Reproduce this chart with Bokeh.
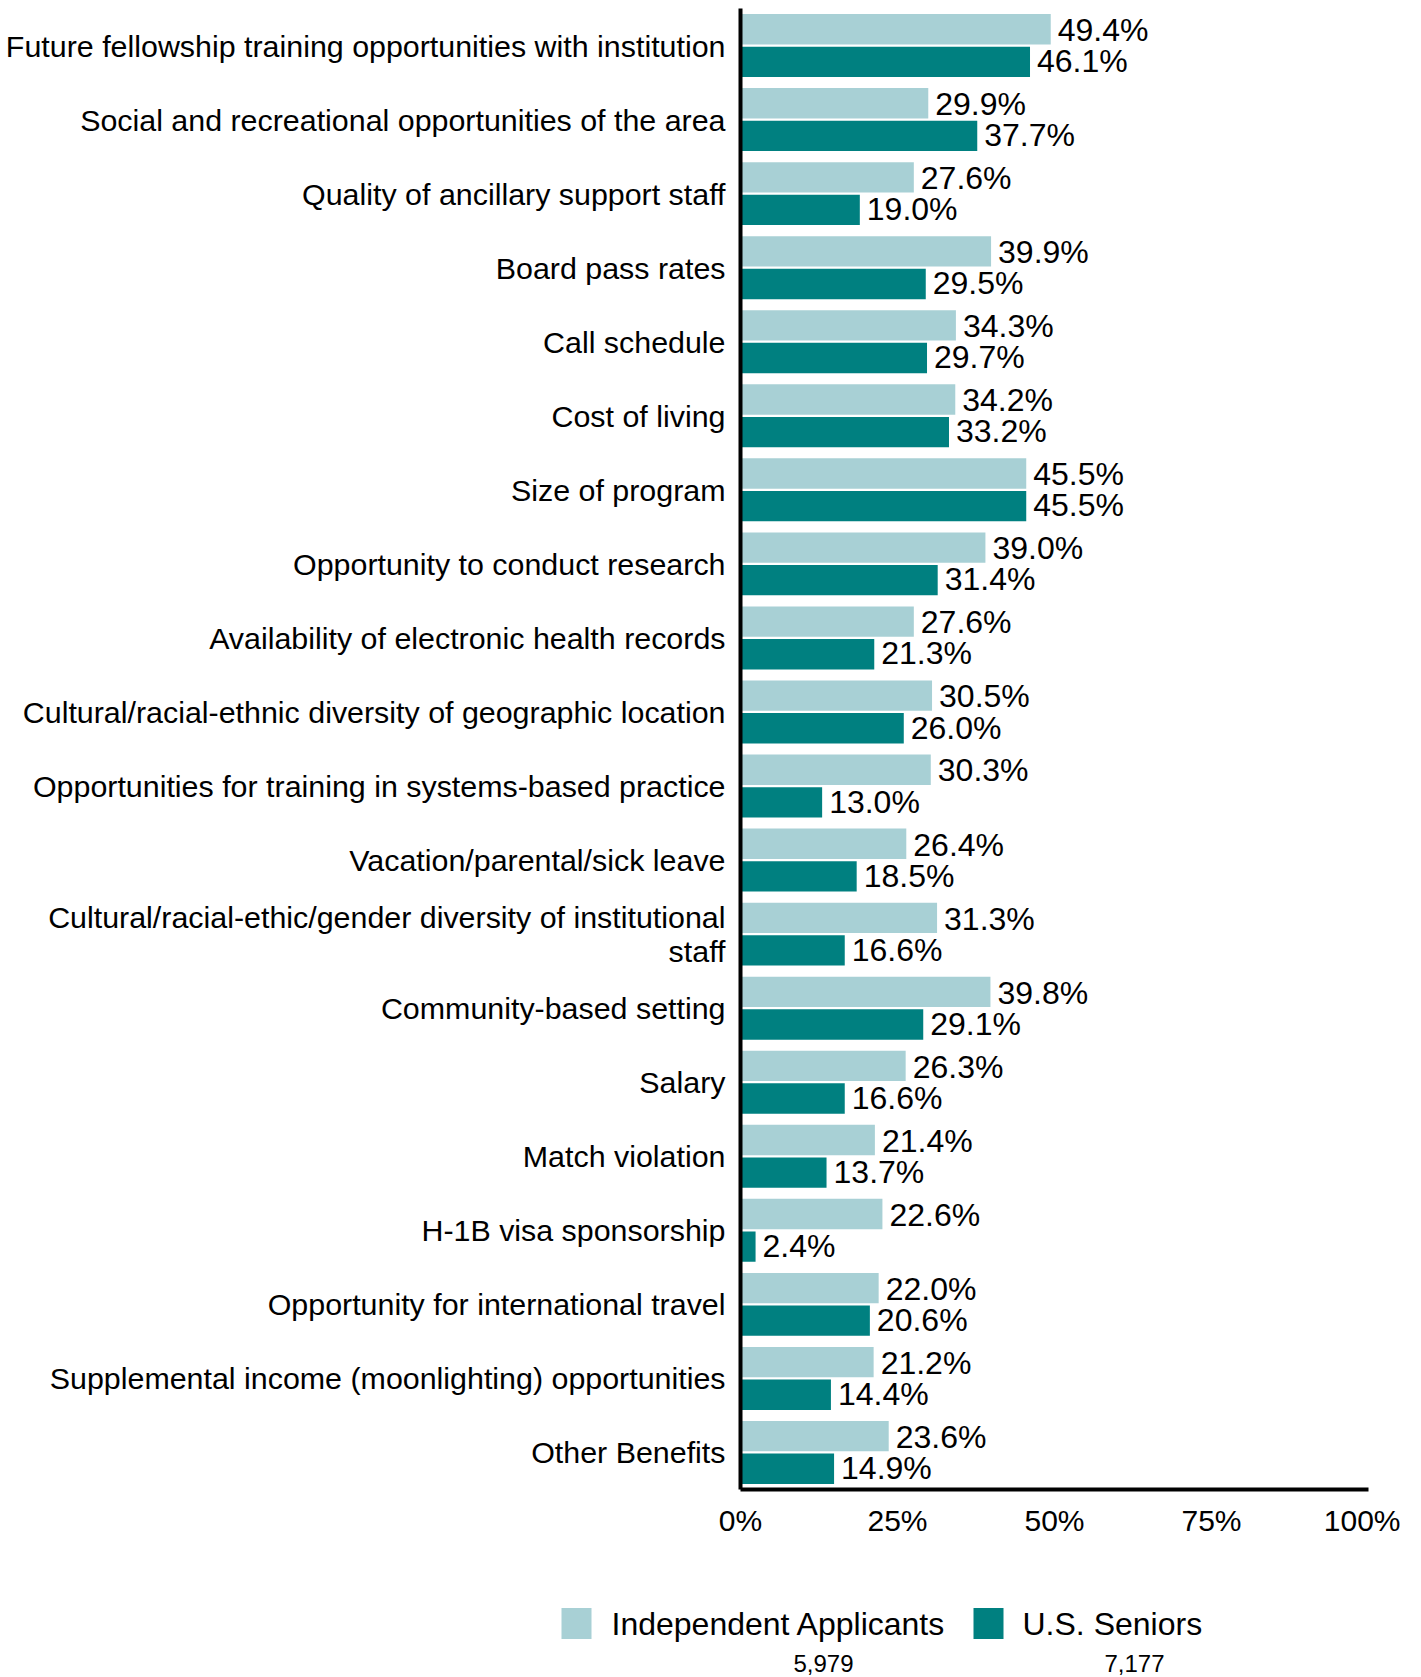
from bokeh.plotting import figure
from bokeh.models import ColumnDataSource, FactorRange, Range1d, FixedTicker
from bokeh.transform import dodge
from bokeh.layouts import column
from bokeh.embed import file_html
from bokeh.resources import INLINE
from bokeh.core.properties import value

categories = [
    "Future fellowship training opportunities with institution",
    "Social and recreational opportunities of the area",
    "Quality of ancillary support staff",
    "Board pass rates",
    "Call schedule",
    "Cost of living",
    "Size of program",
    "Opportunity to conduct research",
    "Availability of electronic health records",
    "Cultural/racial-ethnic diversity of geographic location",
    "Opportunities for training in systems-based practice",
    "Vacation/parental/sick leave",
    "Cultural/racial-ethic/gender diversity of institutional\nstaff",
    "Community-based setting",
    "Salary",
    "Match violation",
    "H-1B visa sponsorship",
    "Opportunity for international travel",
    "Supplemental income (moonlighting) opportunities",
    "Other Benefits",
]
independent = [49.4, 29.9, 27.6, 39.9, 34.3, 34.2, 45.5, 39.0, 27.6, 30.5,
               30.3, 26.4, 31.3, 39.8, 26.3, 21.4, 22.6, 22.0, 21.2, 23.6]
seniors = [46.1, 37.7, 19.0, 29.5, 29.7, 33.2, 45.5, 31.4, 21.3, 26.0,
           13.0, 18.5, 16.6, 29.1, 16.6, 13.7, 2.4, 20.6, 14.4, 14.9]
series_names = ["Independent Applicants", "U.S. Seniors"]
series_counts = ["5,979", "7,177"]
x_ticks = [0, 25, 50, 75, 100]

LIGHT = "#A8D0D5"
TEAL = "#008080"
FONT = "Liberation Sans"

src = ColumnDataSource(dict(
    cat=categories,
    ind=independent,
    sen=seniors,
    ind_lbl=[f"{v:.1f}%" for v in independent],
    sen_lbl=[f"{v:.1f}%" for v in seniors],
))

p = figure(
    width=1400, height=1549,
    y_range=FactorRange(factors=list(reversed(categories)), range_padding=0),
    x_range=Range1d(0, 100),
    output_backend="svg", toolbar_location=None,
    min_border_left=740, min_border_right=32, min_border_top=8, min_border_bottom=60,
)
p.frame_align = False
p.outline_line_color = None
p.grid.visible = False

p.hbar(y=dodge("cat", 0.22, range=p.y_range), right="ind", left=0, height=0.41,
       source=src, fill_color=LIGHT, line_color=None)
p.hbar(y=dodge("cat", -0.22, range=p.y_range), right="sen", left=0, height=0.41,
       source=src, fill_color=TEAL, line_color=None)

p.text(x="ind", y=dodge("cat", 0.21, range=p.y_range), text="ind_lbl", source=src,
       x_offset=7, text_baseline="middle", text_align="left",
       text_font=value(FONT), text_font_size="32px", text_color="black")
p.text(x="sen", y=dodge("cat", -0.21, range=p.y_range), text="sen_lbl", source=src,
       x_offset=7, text_baseline="middle", text_align="left",
       text_font=value(FONT), text_font_size="32px", text_color="black")

p.yaxis.axis_line_width = 4
p.yaxis.axis_line_color = "black"
p.yaxis.major_tick_line_color = None
p.yaxis.minor_tick_line_color = None
p.yaxis.major_label_standoff = 9
p.yaxis.major_label_text_font = FONT
p.yaxis.major_label_text_font_size = "30.4px"
p.yaxis.major_label_text_color = "black"
p.yaxis.major_label_text_line_height = 1.0

p.xaxis.axis_line_width = 4
p.xaxis.axis_line_color = "black"
p.xaxis.major_tick_line_color = None
p.xaxis.minor_tick_line_color = None
p.xaxis.ticker = FixedTicker(ticks=x_ticks)
p.xaxis.major_label_overrides = {t: f"{t}%" for t in x_ticks}
p.xaxis.major_label_standoff = 8
p.xaxis.major_label_text_font = FONT
p.xaxis.major_label_text_font_size = "30px"
p.xaxis.major_label_text_color = "black"

# Legend figure
lg = figure(width=1400, height=128, x_range=Range1d(0, 1400), y_range=Range1d(128, 0),
            output_backend="svg", toolbar_location=None,
            min_border=0)
lg.frame_align = False
lg.outline_line_color = None
lg.grid.visible = False
lg.axis.visible = False

leg_src = ColumnDataSource(dict(
    sx=[576, 988], sy=[74, 74], color=[LIGHT, TEAL],
    tx=[611, 1022], name=series_names,
    cx=[823, 1134], cy=[114, 114], cnt=series_counts,
))
lg.rect(x="sx", y="sy", width=30, height=31, fill_color="color", line_color=None, source=leg_src)
lg.text(x="tx", y="sy", text="name", source=leg_src, text_baseline="middle", text_align="left",
        text_font=value(FONT), text_font_size="32px", text_color="black")
lg.text(x="cx", y="cy", text="cnt", source=leg_src, text_baseline="middle", text_align="center",
        text_font=value(FONT), text_font_size="24px", text_color="black")

layout = column(p, lg, spacing=0)
open("out.html", "w").write(file_html(layout, INLINE))
